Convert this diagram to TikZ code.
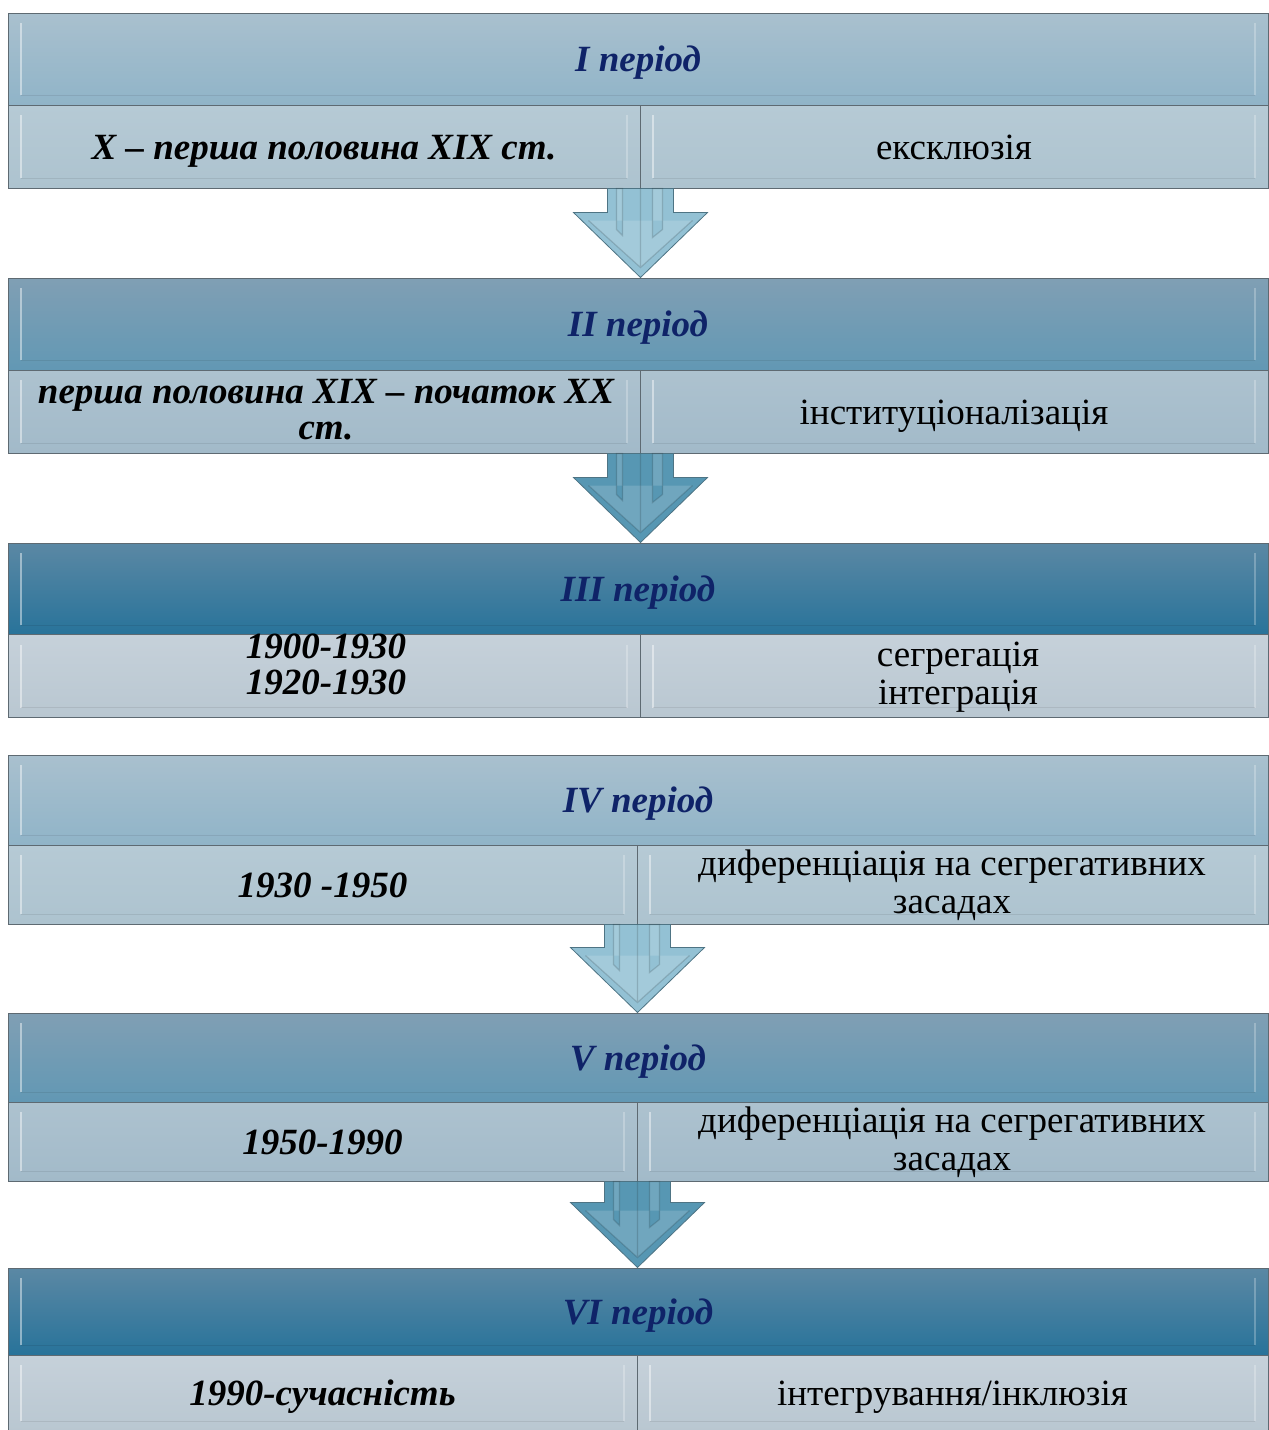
\documentclass[tikz,border=0pt]{standalone}
\usepackage{fontspec}
\setmainfont{Liberation Serif}
\usetikzlibrary{calc}
\definecolor{hdrtxt}{HTML}{0F2368}
\definecolor{cellline}{HTML}{5E6A72}
\definecolor{hlA}{HTML}{A9C0CE}\definecolor{hlB}{HTML}{90B4C8}
\definecolor{hmA}{HTML}{809FB4}\definecolor{hmB}{HTML}{6298B4}
\definecolor{hdA}{HTML}{5B88A4}\definecolor{hdB}{HTML}{28739A}
\definecolor{slA}{HTML}{B6CAD5}\definecolor{slB}{HTML}{ADC3CF}
\definecolor{smA}{HTML}{ADC2CF}\definecolor{smB}{HTML}{A2BAC9}
\definecolor{sdA}{HTML}{C6D1DA}\definecolor{sdB}{HTML}{B9C7D1}
\definecolor{arlight}{HTML}{93C1D4}
\definecolor{ardark}{HTML}{5797B3}
\definecolor{aredge}{HTML}{4E7484}
\newcommand\hdrfont{\fontsize{37}{38}\selectfont\bfseries\itshape}
\newcommand\datefont{\fontsize{37}{36}\selectfont\bfseries\itshape}
\newcommand\stagefont{\fontsize{37}{38.5}\selectfont}
% one down arrow between two period blocks
\newcommand\perarrow[3]{%
  \path[#1] let \p1=(#2), \p2=(#3) in
    (\x1-33pt,\y1) -- (\x1-33pt,\y2+65pt) -- (\x1-67pt,\y2+65pt) -- (\x1,\y2)
    -- (\x1+67pt,\y2+65pt) -- (\x1+33pt,\y2+65pt) -- (\x1+33pt,\y1) -- cycle;
  \path let \p1=(#2), \p2=(#3) in
    [fill=white,opacity=.35] (\x1+12pt,\y1) -- (\x1+22pt,\y1) -- (\x1+22pt,\y2+48pt) -- (\x1+12pt,\y2+40pt) -- cycle
    [fill=white,opacity=.2] (\x1-24pt,\y1) -- (\x1-18pt,\y1) -- (\x1-18pt,\y2+42pt) -- (\x1-24pt,\y2+48pt) -- cycle
    [draw=white,opacity=.45,line width=1.2pt] (\x1-52pt,\y2+57pt) -- (\x1,\y2+10pt) -- (\x1+52pt,\y2+57pt)
    [draw=black,opacity=.15] (\x1,\y2+10pt) -- (\x1,\y1);}
\tikzset{
  bevel/.style={path picture={
    \draw[white,opacity=.45,line width=1.6pt]
      ([shift={(13pt,-10pt)}]path picture bounding box.north west) -- ([shift={(13pt,10pt)}]path picture bounding box.south west);
    \draw[white,opacity=.25,line width=1.2pt]
      ([shift={(-13pt,-10pt)}]path picture bounding box.north east) -- ([shift={(-13pt,10pt)}]path picture bounding box.south east);
    \draw[black,opacity=.08,line width=1pt]
      ([shift={(13pt,10pt)}]path picture bounding box.south west) -- ([shift={(-13pt,10pt)}]path picture bounding box.south east);}},
  cell/.style={draw=cellline, line width=1pt, inner sep=0pt, align=center, bevel},
  oneline/.style={text height=33pt, text depth=8pt},
  hdr/.style={cell, oneline, minimum width=1260pt, minimum height=92pt, font=\hdrfont, text=hdrtxt},
  hdrlight/.style={hdr, top color=hlA, bottom color=hlB},
  hdrmid/.style={hdr, top color=hmA, bottom color=hmB},
  hdrdark/.style={hdr, top color=hdA, bottom color=hdB},
  sub/.style={cell, minimum height=83pt},
  sublight/.style={sub, top color=slA, bottom color=slB},
  submid/.style={sub, top color=smA, bottom color=smB},
  subdark/.style={sub, top color=sdA, bottom color=sdB},
  arrowlight/.style={fill=arlight, draw=aredge, line width=.8pt},
  arrowdark/.style={fill=ardark, draw=aredge, line width=.8pt},
  date/.style={font=\datefont, align=center},
  stage/.style={font=\stagefont, align=center}
}
\begin{document}
\begin{tikzpicture}
\useasboundingbox (0pt,0pt) rectangle (1269pt,-1430pt);
% I
\draw (638.0pt, -59.0pt) node[hdrlight](h1){I період};
\draw (324.0pt, -146.5pt) node[sublight, minimum width=632pt, date, oneline](l1){X – перша половина XIX ст.};
\draw (954.0pt, -146.5pt) node[sublight, minimum width=628pt, stage, oneline](r1){ексклюзія};
% II
\draw (638.0pt, -324.0pt) node[hdrmid](h2){II період};
\draw (324.0pt, -411.5pt) node[submid, minimum width=632pt](l2){};
\draw (326.0pt, -410.0pt) node[date](t2){перша половина XIX – початок XX\\ст.};
\draw (954.0pt, -411.5pt) node[submid, minimum width=628pt, stage, oneline](r2){інституціоналізація};
% III
\draw (638.0pt, -589.0pt) node[hdrdark](h3){III період};
\draw (324.0pt, -676.0pt) node[subdark, minimum width=632pt](l3){};
\draw (326.0pt, -664.5pt) node[date](t3){1900-1930\\1920-1930};
\draw (954.0pt, -676.0pt) node[subdark, minimum width=628pt](r3){};
\draw (958.0pt, -677.0pt) node[stage](s3){сегрегація\\інтеграція};
% IV
\draw (638.0pt, -800.0pt) node[hdrlight, minimum height=90pt](h4){IV період};
\draw (322.5pt, -884.5pt) node[sublight, minimum height=79pt, minimum width=629pt, date, oneline](l4){1930 -1950};
\draw (952.5pt, -884.5pt) node[sublight, minimum height=79pt, minimum width=631pt](r4){};
\draw (952.0pt, -885.0pt) node[stage](s4){диференціація на сегрегативних\\засадах};
% V
\draw (638.0pt, -1057.5pt) node[hdrmid, minimum height=89pt](h5){V період};
\draw (322.5pt, -1141.5pt) node[submid, minimum height=79pt, minimum width=629pt, date, oneline](l5){1950-1990};
\draw (952.5pt, -1141.5pt) node[submid, minimum height=79pt, minimum width=631pt](r5){};
\draw (952.0pt, -1142.0pt) node[stage](s5){диференціація на сегрегативних\\засадах};
% VI
\draw (638.0pt, -1311.5pt) node[hdrdark, minimum height=87pt](h6){VI період};
\draw (322.5pt, -1393.0pt) node[subdark, minimum height=76pt, minimum width=629pt, date, oneline](l6){1990-сучасність};
\draw (952.5pt, -1393.0pt) node[subdark, minimum height=76pt, minimum width=631pt, stage, oneline](r6){інтегрування/інклюзія};
% arrows
\perarrow{arrowlight}{l1.south east}{h2.north}
\perarrow{arrowdark}{l2.south east}{h3.north}
\perarrow{arrowlight}{l4.south east}{h5.north}
\perarrow{arrowdark}{l5.south east}{h6.north}
\end{tikzpicture}
\end{document}
